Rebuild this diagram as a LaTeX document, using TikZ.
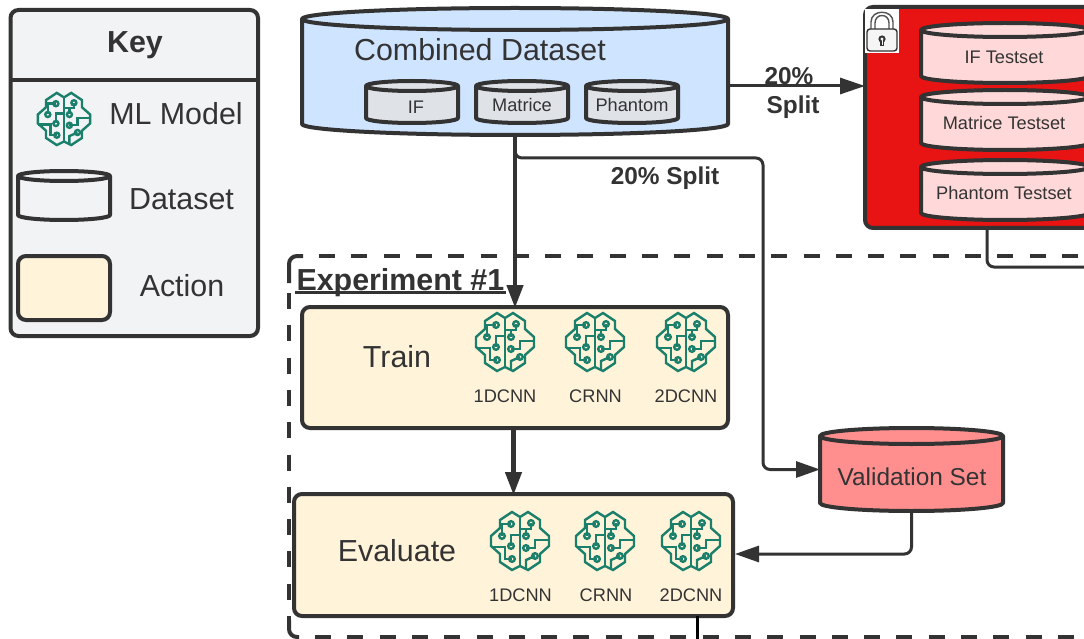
\documentclass[tikz,border=0pt]{standalone}
\usepackage{fontspec}
\setmainfont{Liberation Sans}
\usetikzlibrary{arrows.meta,fit,calc}
\definecolor{ink}{HTML}{333333}
\definecolor{keyfill}{HTML}{F2F3F5}
\definecolor{actionfill}{HTML}{FFF3D9}
\definecolor{blueds}{HTML}{CFE4FF}
\definecolor{grayds}{HTML}{DFE3E8}
\definecolor{redbox}{HTML}{E81313}
\definecolor{pinkds}{HTML}{FFD9D9}
\definecolor{valds}{HTML}{FF8F8F}
\definecolor{teal}{HTML}{1A7F6B}
\newcommand{\fs}[1]{\fontsize{#1}{#1}\selectfont}
\tikzset{
  x=1pt,y=-1pt,
  txt/.style={text=ink,inner sep=0,outer sep=0,anchor=center},
  big/.style={txt,font=\fs{30.4}},
  bigb/.style={txt,font=\fs{30.4}\bfseries},
  splitlab/.style={txt,font=\fs{24.4}\bfseries},
  small/.style={txt,font=\fs{18.2}},
  boxline/.style={draw=ink,line width=4pt,rounded corners=8pt},
  actionbox/.style={boxline,fill=actionfill,inner sep=0,outer sep=0},
  framedash/.style={draw=ink,line width=4pt},
  thick conn/.style={draw=ink,line width=4.4pt,-{Triangle[length=23pt,width=16pt]}},
  thin conn/.style={draw=ink,line width=3pt,rounded corners=7pt},
  thin arrow/.style={thin conn,-{Triangle[length=24pt,width=16pt]}},
  brain/.pic={
    \begin{scope}[draw=teal,line width=2.4pt,line join=miter]
      \draw (0,-24)--(-8,-29)--(-20,-21)--(-20,-13)--(-29,-5)--(-29,5)--(-20,13)--(-20,21)--(-8,29)--(0,25)
            --(8,29)--(20,21)--(20,13)--(29,5)--(29,-5)--(20,-13)--(20,-21)--(8,-29)--cycle;
      \draw (0,-24)--(0,25);
      \draw (-9,-17)--(-18,-17)--(-18,-5);
      \draw (-9,5)--(-9,-6)--(0,-6);
      \draw (-8,18)--(-15,18)--(-15,6)--(-29,6);
      \draw (11,-18)--(11,-12)--(0,-12);
      \draw (6,-12)--(6,-5);
      \draw (6,7)--(15,7)--(15,-1)--(29,-1);
      \draw (15,15)--(6,19)--(6,28);
      \foreach \cx/\cy in {-9/-17,-18/-5,-9/5,-8/18,11/-18,6/-5,6/7,15/15}
        \draw[fill=none] (\cx,\cy) circle[radius=2.8];
    \end{scope}
  }
}
% name, x1, y1, x2, y2, ry, fill, line width
\newcommand{\cyl}[8]{%
  \node[fit={(#2,#3)(#4,#5)},inner sep=0,outer sep=0] (#1) {};
  \pgfmathsetmacro{\xm}{(#2+#4)/2}\pgfmathsetmacro{\hw}{(#4-#2)/2}
  \pgfmathsetmacro{\kx}{0.5523*\hw}\pgfmathsetmacro{\ky}{0.5523*#6}
  \pgfmathsetmacro{\yt}{#3+#6}\pgfmathsetmacro{\yb}{#5-#6}
  \draw[draw=ink,line width=#8,fill=#7,line join=round]
    (#2,\yt) -- (#2,\yb) .. controls (#2,\yb+\ky) and (\xm-\kx,#5) .. (\xm,#5)
    .. controls (\xm+\kx,#5) and (#4,\yb+\ky) .. (#4,\yb) -- (#4,\yt)
    .. controls (#4,\yt-\ky) and (\xm+\kx,#3) .. (\xm,#3)
    .. controls (\xm-\kx,#3) and (#2,\yt-\ky) .. (#2,\yt) -- cycle
    (#2,\yt) .. controls (#2,\yt+\ky) and (\xm-\kx,\yt+#6) .. (\xm,\yt+#6)
    .. controls (\xm+\kx,\yt+#6) and (#4,\yt+\ky) .. (#4,\yt);
}
\begin{document}
\begin{tikzpicture}
\path[use as bounding box] (0,0) rectangle (1084,639);
\clip (0,0) rectangle (1084,639);
\fill[white] (0,0) rectangle (1084,639);

% Key
\node[fit={(10.5,10)(258,336)},boxline,fill=keyfill,inner sep=0,outer sep=0] (key) {};
\coordinate (keyrule) at (0,80);
\draw[ink,line width=4pt] (key.west |- keyrule) -- (key.east |- keyrule);
\node[bigb] (keytitle) at (135,45) {Key};
\pic[scale=.9] at (64,119) {brain};
\node[big] (keyml) at (176,114) {ML Model};
\cyl{keyds}{18}{171}{110}{220}{5}{keyfill}{4pt}
\node[big] (keydsl) at (181.5,199.5) {Dataset};
\node[fit={(18,256)(110,320)},actionbox] (keyact) {};
\node[big] (keyactl) at (182,285.5) {Action};

% Experiment frame
\draw[framedash,rounded corners=8pt] (289,283) -- (289,256) -- (303,256);
\draw[framedash,rounded corners=8pt] (289,620) -- (289,637) -- (299,637);
\draw[framedash,dash pattern=on 16pt off 16.3pt] (289,293) -- (289,620);
\draw[framedash,dash pattern=on 16pt off 16.3pt] (319,256) -- (1090,256);
\draw[framedash,dash pattern=on 16pt off 16.3pt] (315,637) -- (1090,637);
\node[bigb,anchor=base west] (exptitle) at (296.5,290) {Experiment \#1};
\draw[ink,line width=3pt] ($(exptitle.base west)+(-2,2)$) -- ($(exptitle.base east)+(2,2)$);

% Combined dataset
\cyl{comb}{302}{8}{728}{135}{11}{blueds}{4pt}
\node[big] (combl) at (480,49.5) {Combined Dataset};
\cyl{dsif}{366}{81}{458}{123}{5}{grayds}{4pt}
\node[small] (dsifl) at (416,107) {IF};
\cyl{dsmat}{476}{81}{568}{123}{5}{grayds}{4pt}
\node[small] (dsmatl) at (522,105) {Matrice};
\cyl{dsph}{586}{81}{678}{123}{5}{grayds}{4pt}
\node[small] (dsphl) at (632,105) {Phantom};

% Connector below the red box goes underneath
\coordinate (exitred) at (1090,267);
\coordinate (redout) at (987,228);
\draw[thin conn] (redout) |- (exitred);

% Locked test sets
\node[fit={(865,7)(1200,228)},draw=ink,line width=4pt,fill=redbox,rounded corners=8pt,inner sep=0,outer sep=0] (red) {};
\fill[white] (865,9) rectangle (899,53);
\draw[ink!85,line width=1.4pt] (871,30) -- (871,22) .. controls (871,9) and (893,9) .. (893,22) -- (893,30);
\draw[ink!85,line width=1.4pt] (875,30) -- (875,23) .. controls (875,13) and (889,13) .. (889,23) -- (889,30);
\draw[ink,line width=1.4pt,fill=white!96!black,rounded corners=3pt] (867,29) rectangle (897,51);
\fill[ink] (882,39) circle[radius=3.6];
\fill[ink] (880.4,40) rectangle (883.6,46);
\fill[white!96!black] (882,39) circle[radius=1.6];
\fill[white!96!black] (881.5,40) rectangle (882.5,45);
\cyl{tif}{921}{23}{1089}{83}{7}{pinkds}{4pt}
\node[small] (tifl) at (1004,57) {IF Testset};
\cyl{tmat}{921}{90}{1089}{150}{7}{pinkds}{4pt}
\node[small] (tmatl) at (1004,123) {Matrice Testset};
\cyl{tph}{921}{160}{1089}{220}{7}{pinkds}{4pt}
\node[small] (tphl) at (1004,193) {Phantom Testset};

% Train
\node[fit={(302,307)(728,428)},actionbox] (train) {};
\node[big] (trainl) at (397,357) {Train};
\pic at (505,342) {brain};
\pic at (595,342) {brain};
\pic at (686,342) {brain};
\node[small] (tr1) at (505,396) {1DCNN};
\node[small] (tr2) at (595.5,396) {CRNN};
\node[small] (tr3) at (686,396) {2DCNN};

% Evaluate
\node[fit={(294,494)(733,616)},actionbox] (eval) {};
\node[big] (evall) at (397,550.5) {Evaluate};
\pic at (520,541) {brain};
\pic at (605,541) {brain};
\pic at (691,541) {brain};
\node[small] (ev1) at (520.5,595) {1DCNN};
\node[small] (ev2) at (606,595) {CRNN};
\node[small] (ev3) at (691,595) {2DCNN};

% Validation
\cyl{val}{820}{428}{1003}{511}{8}{valds}{4pt}
\node[txt,font=\fs{24.4}] (vall) at (912,476.5) {Validation Set};

% Connectors
\coordinate (toRed) at (0,86);
\coordinate (splitturn) at (763,158);
\coordinate (valturn) at (0,554);
\coordinate (evalout) at (697,616);
\coordinate (pagebottom) at (697,645);
\draw[thin conn,-{Triangle[length=25pt,width=16pt]},rounded corners=0pt] (comb.east |- toRed) -- (red.west |- toRed);
\draw[thick conn,shorten >=-1pt] (comb.south) -- (train.north);
\draw[thick conn,shorten >=-1pt] (eval.north |- train.south) -- (eval.north);
\draw[thin arrow] (comb.south) |- (splitturn) |- (val.west);
\draw[thin arrow] (val.south) |- ($(eval.east |- valturn)+(2,0)$);
\draw[thin conn,draw=black] (evalout) -- (pagebottom);

\node[splitlab] (s1a) at (789,76) {20\%};
\node[splitlab] (s1b) at (793,107) {Split};
\node[splitlab] (s2) at (665,178) {20\% Split};
\end{tikzpicture}
\end{document}
